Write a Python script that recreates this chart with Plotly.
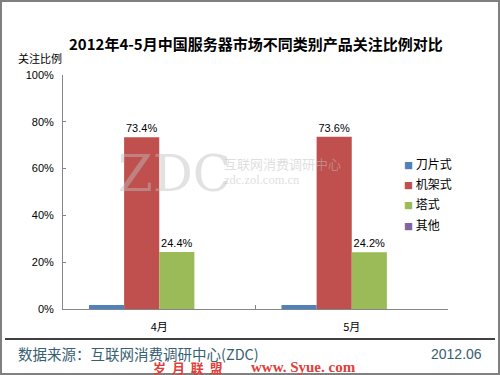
import plotly.graph_objects as go

categories = ["4月", "5月"]
series_names = ["刀片式", "机架式", "塔式", "其他"]
blade = [1.7, 1.7]
rack = [73.4, 73.6]
tower = [24.4, 24.2]
other = [0.0, 0.0]
colors = ["#4F81BD", "#C0504D", "#9BBB59", "#8064A2"]
y_ticks = [0, 20, 40, 60, 80, 100]
y_tick_labels = ["0%", "20%", "40%", "60%", "80%", "100%"]

W, H = 500, 375
L, R, T, B = 63, 448, 75, 309

def px_x(x):
    return (x - L) / (R - L)

def px_y(y):
    return (B - y) / (B - T)

FONT = "Noto Sans CJK SC"

fig = go.Figure()
values = [blade, rack, tower, other]
show_labels = [False, True, True, False]
for name, vals, col, lab in zip(series_names, values, colors, show_labels):
    fig.add_trace(go.Bar(
        x=categories, y=vals, name=name, marker_color=col, marker_line_width=0,
        text=[f"{v:.1f}%" for v in vals] if lab else None,
        textposition="outside" if lab else "none",
        textfont=dict(size=11, color="#000000", family="Liberation Sans"),
        cliponaxis=False, showlegend=False,
    ))

fig.update_layout(
    width=W, height=H,
    margin=dict(l=L, r=W - R, t=T, b=H - B, pad=0),
    paper_bgcolor="white", plot_bgcolor="white",
    barmode="group", bargap=0.27, bargroupgap=0,
    font=dict(family=FONT, size=11, color="#000000"),
    showlegend=False,
    xaxis=dict(showline=True, linecolor="#868686", linewidth=1, ticks="inside",
               tickson="boundaries", ticklen=4, tickcolor="#868686",
               ticklabelstandoff=8,
               tickfont=dict(size=11, family=FONT), showgrid=False),
    yaxis=dict(range=[0, 100], tickvals=y_ticks, ticktext=y_tick_labels,
               showline=True, linecolor="#868686", linewidth=1, ticks="inside",
               ticklen=3, tickcolor="#868686", showgrid=False, zeroline=False,
               ticklabelstandoff=6,
               tickfont=dict(size=11, family="Liberation Sans")),
)

annotations = [
    dict(text="<b>2012年4-5月中国服务器市场不同类别产品关注比例对比</b>", x=px_x(256), y=px_y(43),
         font=dict(size=15, family=FONT, color="#000000")),
    dict(text="关注比例", x=px_x(40), y=px_y(58), font=dict(size=11, family=FONT)),
    dict(text="ZDC", x=px_x(174), y=px_y(174),
         font=dict(size=50, family="DejaVu Serif", color="rgba(190,190,190,0.45)")),
    dict(text="互联网消费调研中心", x=px_x(222), y=px_y(163), xanchor="left",
         font=dict(size=13, family=FONT, color="rgba(190,190,190,0.5)")),
    dict(text="zdc.zol.com.cn", x=px_x(222), y=px_y(180), xanchor="left",
         font=dict(size=12.5, family="Liberation Serif", color="rgba(190,190,190,0.5)")),
    dict(text="数据来源：互联网消费调研中心(ZDC)", x=px_x(16), y=px_y(353), xanchor="left",
         font=dict(size=14.5, family=FONT, color="#376070")),
    dict(text="2012.06", x=px_x(484), y=px_y(354), xanchor="right",
         font=dict(size=14, family="Liberation Sans", color="#376070")),
    dict(text="<b>岁  月  联  盟</b>", x=px_x(188), y=px_y(367),
         font=dict(size=13, family=FONT, color="#E0403A")),
    dict(text="<b>www. Syue. com</b>", x=px_x(303), y=px_y(367),
         font=dict(size=15, family="Liberation Serif", color="#E0403A")),
]
legend_y = [163, 183, 203, 224]
for name, col, ly in zip(series_names, colors, legend_y):
    annotations.append(dict(
        text=f"<span style='color:{col};font-size:9px'>■</span> {name}", x=px_x(402), y=px_y(ly),
        xanchor="left", font=dict(size=12, family=FONT, color="#000000")))

for a in annotations:
    a.update(xref="paper", yref="paper", showarrow=False)
    a.setdefault("xanchor", "center")
    a.setdefault("yanchor", "middle")
    fig.add_annotation(**a)

fig.add_shape(type="line", xref="paper", yref="paper",
              x0=px_x(5), x1=px_x(495), y0=px_y(339), y1=px_y(339),
              line=dict(color="#000000", width=1.5))
fig.add_shape(type="rect", xref="paper", yref="paper",
              x0=px_x(1), x1=px_x(499), y0=px_y(1), y1=px_y(374),
              line=dict(color="#808080", width=2))

fig.write_html("out.html", config={"displayModeBar": False},
               post_script="document.body.style.margin='0';document.body.style.overflow='hidden';")
